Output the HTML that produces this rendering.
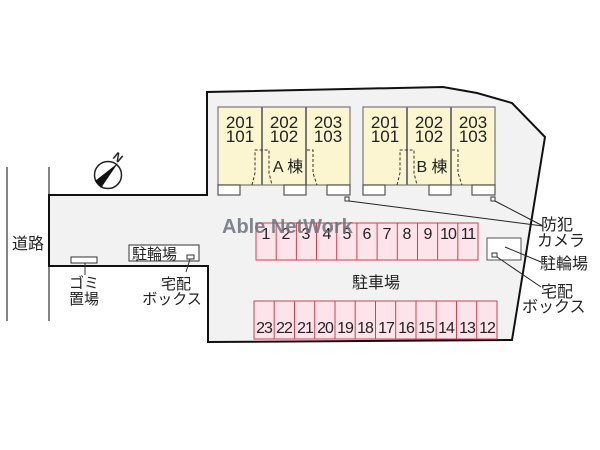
<!DOCTYPE html>
<html><head><meta charset="utf-8"><style>
html,body{margin:0;padding:0;background:#fff;width:600px;height:450px;overflow:hidden}
svg text{font-family:"Liberation Sans","Noto Sans CJK JP",sans-serif;fill:#222}
</style></head><body>
<svg width="600" height="450" viewBox="0 0 600 450" xmlns="http://www.w3.org/2000/svg">
<line x1="7" y1="167" x2="7" y2="321" stroke="#333" stroke-width="1.2"/>
<line x1="49" y1="167" x2="49" y2="321" stroke="#333" stroke-width="1.2"/>
<polygon points="49,195 207,195 207,92 443,87 477,93 512,103 545,137 512,340 208,342 208,266 49,266" fill="#f2f2f2" stroke="#111" stroke-width="2"/>
<g stroke="#777" stroke-width="1.2">
<rect x="218" y="107" width="132" height="78" fill="#fbf6cf"/>
<line x1="262" y1="107" x2="262" y2="185" stroke-width="2"/>
<line x1="306" y1="107" x2="306" y2="185" stroke-width="2"/>
<rect x="363" y="107" width="132" height="78" fill="#fbf6cf"/>
<line x1="407" y1="107" x2="407" y2="185" stroke-width="2"/>
<line x1="451" y1="107" x2="451" y2="185" stroke-width="2"/>
</g>
<g fill="#fff" stroke="#555" stroke-width="1.2">
<rect x="218" y="185" width="22" height="10"/><rect x="284" y="185" width="22" height="10"/><rect x="327" y="185" width="23" height="10"/>
<rect x="363" y="185" width="22" height="10"/><rect x="429" y="185" width="22" height="10"/><rect x="472" y="185" width="23" height="10"/>
</g>
<g fill="none" stroke="#333" stroke-width="1" stroke-dasharray="3,2">
<polyline points="252,185 255,173 255,150 269,150 269,173 272,185"/>
<polyline points="307,150 313,150 313,173 317,185"/>
<polyline points="397,185 400,173 400,150 414,150 414,173 417,185"/>
<polyline points="452,150 458,150 458,173 462,185"/>
</g>
<g font-size="17" text-anchor="middle">
<text x="240" y="128">201</text><text x="240" y="142">101</text>
<text x="284" y="128">202</text><text x="284" y="142">102</text>
<text x="328" y="128">203</text><text x="328" y="142">103</text>
<text x="385" y="128">201</text><text x="385" y="142">101</text>
<text x="429" y="128">202</text><text x="429" y="142">102</text>
<text x="473" y="128">203</text><text x="473" y="142">103</text>
<text x="288" y="172" font-size="16">A 棟</text>
<text x="432" y="172" font-size="16">B 棟</text>
</g>
<rect x="345" y="197" width="4" height="4" fill="#fff" stroke="#333"/>
<rect x="491" y="197" width="4" height="4" fill="#fff" stroke="#333"/>
<line x1="349" y1="201" x2="543" y2="226" stroke="#222"/>
<line x1="495" y1="201" x2="543" y2="226" stroke="#222"/>
<g fill="#fde4ea" stroke="#d04050" stroke-width="1">
<rect x="256" y="223" width="222" height="37"/>
<rect x="254" y="301" width="243" height="38"/>
</g>
<g stroke="#d04050" stroke-width="1">
<line x1="276.2" y1="223" x2="276.2" y2="260"/><line x1="296.4" y1="223" x2="296.4" y2="260"/><line x1="316.5" y1="223" x2="316.5" y2="260"/><line x1="336.7" y1="223" x2="336.7" y2="260"/><line x1="356.9" y1="223" x2="356.9" y2="260"/><line x1="377.1" y1="223" x2="377.1" y2="260"/><line x1="397.3" y1="223" x2="397.3" y2="260"/><line x1="417.5" y1="223" x2="417.5" y2="260"/><line x1="437.6" y1="223" x2="437.6" y2="260"/><line x1="457.8" y1="223" x2="457.8" y2="260"/>
<line x1="274.2" y1="301" x2="274.2" y2="339"/><line x1="294.5" y1="301" x2="294.5" y2="339"/><line x1="314.7" y1="301" x2="314.7" y2="339"/><line x1="335" y1="301" x2="335" y2="339"/><line x1="355.2" y1="301" x2="355.2" y2="339"/><line x1="375.5" y1="301" x2="375.5" y2="339"/><line x1="395.7" y1="301" x2="395.7" y2="339"/><line x1="416" y1="301" x2="416" y2="339"/><line x1="436.2" y1="301" x2="436.2" y2="339"/><line x1="456.5" y1="301" x2="456.5" y2="339"/><line x1="476.7" y1="301" x2="476.7" y2="339"/>
</g>
<g font-size="16" text-anchor="middle">
<text x="266" y="239">1</text><text x="286" y="239">2</text><text x="306" y="239">3</text><text x="327" y="239">4</text><text x="347" y="239">5</text><text x="367" y="239">6</text><text x="387" y="239">7</text><text x="407" y="239">8</text><text x="428" y="239">9</text><text x="448" y="239" letter-spacing="-1">10</text><text x="468" y="239" letter-spacing="-1">11</text>
</g>
<g font-size="16" text-anchor="middle" letter-spacing="-1">
<text x="264" y="333">23</text><text x="284" y="333">22</text><text x="305" y="333">21</text><text x="325" y="333">20</text><text x="345" y="333">19</text><text x="365" y="333">18</text><text x="386" y="333">17</text><text x="406" y="333">16</text><text x="426" y="333">15</text><text x="446" y="333">14</text><text x="467" y="333">13</text><text x="487" y="333">12</text>
</g>
<text x="222" y="233" font-size="20" font-weight="bold" style="fill:#6a737d;opacity:0.85">Able NetWork</text>
<text x="376" y="288" font-size="16" text-anchor="middle">駐車場</text>
<rect x="487" y="238" width="34" height="22" fill="#fff" stroke="#555"/>
<rect x="492" y="253" width="5" height="4" fill="#fff" stroke="#333"/>
<line x1="505" y1="247" x2="541" y2="262" stroke="#222"/>
<line x1="497" y1="257" x2="541" y2="287" stroke="#222"/>
<g font-size="16">
<text x="541" y="230">防犯</text><text x="537" y="246">カメラ</text>
<text x="540" y="269">駐輪場</text>
<text x="541" y="297">宅配</text><text x="522" y="312">ボックス</text>
</g>
<rect x="71" y="257" width="26" height="6" fill="#fff" stroke="#333"/>
<line x1="85" y1="263" x2="85" y2="275" stroke="#333"/>
<text x="84" y="288" font-size="15" text-anchor="middle">ゴミ</text>
<text x="84" y="304" font-size="15" text-anchor="middle">置場</text>
<rect x="129" y="245" width="70" height="16" fill="#fff" stroke="#333"/>
<text x="132" y="259" font-size="15">駐輪場</text>
<rect x="187" y="255" width="7" height="4" fill="#fff" stroke="#333"/>
<line x1="190" y1="259" x2="186" y2="272" stroke="#333"/>
<text x="176" y="289" font-size="15" text-anchor="middle">宅配</text>
<text x="172" y="304" font-size="15" text-anchor="middle">ボックス</text>
<text x="12" y="249" font-size="16">道路</text>
<circle cx="108" cy="175" r="13.5" fill="#fff" stroke="#222" stroke-width="1.5"/>
<polygon points="118,163 95,181 101,188" fill="#111"/>
<text x="114" y="162" font-size="12" font-weight="bold" transform="rotate(40 119 157)">N</text>
</svg>
</body></html>
